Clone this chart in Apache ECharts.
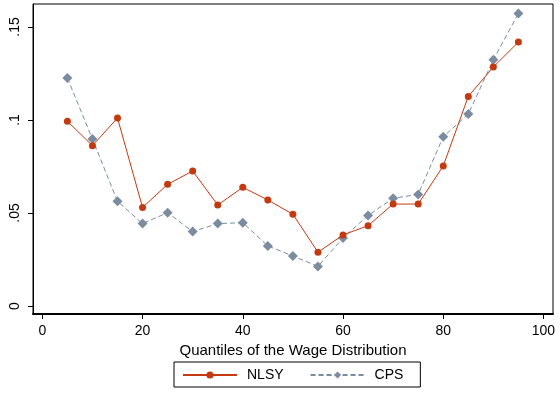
<!DOCTYPE html>
<html>
<head>
<meta charset="utf-8">
<script src="https://cdn.jsdelivr.net/npm/echarts@6/dist/echarts.min.js"></script>
<style>html,body{margin:0;padding:0;background:#fff;}#c{width:559px;height:394px;}</style>
</head>
<body>
<div id="c"></div>
<script>
const quantiles = [5,10,15,20,25,30,35,40,45,50,55,60,65,70,75,80,85,90,95];
const nlsy = [0.0993,0.0862,0.1011,0.0530,0.0654,0.0726,0.0543,0.0638,0.0570,0.0493,0.0289,0.0382,0.0432,0.0548,0.0548,0.0753,0.1127,0.1285,0.1419];
const cps  = [0.1226,0.0898,0.0563,0.0443,0.0502,0.0400,0.0443,0.0448,0.0323,0.0269,0.0213,0.0366,0.0487,0.0579,0.0600,0.0910,0.1032,0.1324,0.1573];
const xTicks = [0,20,40,60,80,100];
const yTicks = [0,0.05,0.1,0.15];
const yTickLabels = ['0','.05','.1','.15'];
const xTitle = 'Quantiles of the Wage Distribution';

const RED = '#c33a10';
const GRAY = '#7b8ca0';
const FONT = '"Liberation Sans", Arial, sans-serif';

const chart = echarts.init(document.getElementById('c'), null, {renderer:'canvas'});
chart.setOption({
  animation:false,
  backgroundColor:'#fff',
  grid:{left:33,right:6,top:4,bottom:80,show:true,borderColor:'#000',borderWidth:1,backgroundColor:'transparent'},
  xAxis:{
    type:'value', min:-1.86, max:101.9,
    name:xTitle, nameLocation:'middle', nameGap:25,
    nameTextStyle:{fontSize:15,color:'#000',fontFamily:FONT},
    axisLine:{show:true,onZero:false,lineStyle:{color:'#000',width:2}},
    axisTick:{show:true,length:5,customValues:xTicks,lineStyle:{color:'#000',width:1}},
    axisLabel:{customValues:xTicks,fontSize:14,color:'#000',fontFamily:FONT,margin:10},
    splitLine:{show:false}
  },
  yAxis:{
    type:'value', min:-0.0043, max:0.16237,
    axisLine:{show:true,onZero:false,lineStyle:{color:'#000',width:1}},
    axisTick:{show:true,length:5,customValues:yTicks,lineStyle:{color:'#000',width:1}},
    axisLabel:{customValues:yTicks,rotate:90,fontSize:14,color:'#000',fontFamily:FONT,margin:11,
      formatter:function(v){const i=yTicks.findIndex(t=>Math.abs(t-v)<1e-9);return i>=0?yTickLabels[i]:'';}},
    splitLine:{show:false}
  },
  legend:{
    left:174, top:362, orient:'horizontal',
    itemWidth:54, itemHeight:9, itemGap:26,
    padding:[6,17,5,8],
    borderColor:'#000', borderWidth:1,
    textStyle:{fontSize:14,color:'#000',fontFamily:FONT,padding:[0,0,0,5]},
    data:['NLSY','CPS']
  },
  series:[
    {name:'NLSY',type:'line',data:quantiles.map((q,i)=>[q,nlsy[i]]),
     symbol:'circle',symbolSize:7,
     lineStyle:{color:RED,width:1},itemStyle:{color:RED},z:3},
    {name:'CPS',type:'line',data:quantiles.map((q,i)=>[q,cps[i]]),
     symbol:'diamond',symbolSize:10,
     lineStyle:{color:GRAY,width:1,type:[5,3]},itemStyle:{color:GRAY},z:2}
  ]
});
</script>
</body>
</html>
